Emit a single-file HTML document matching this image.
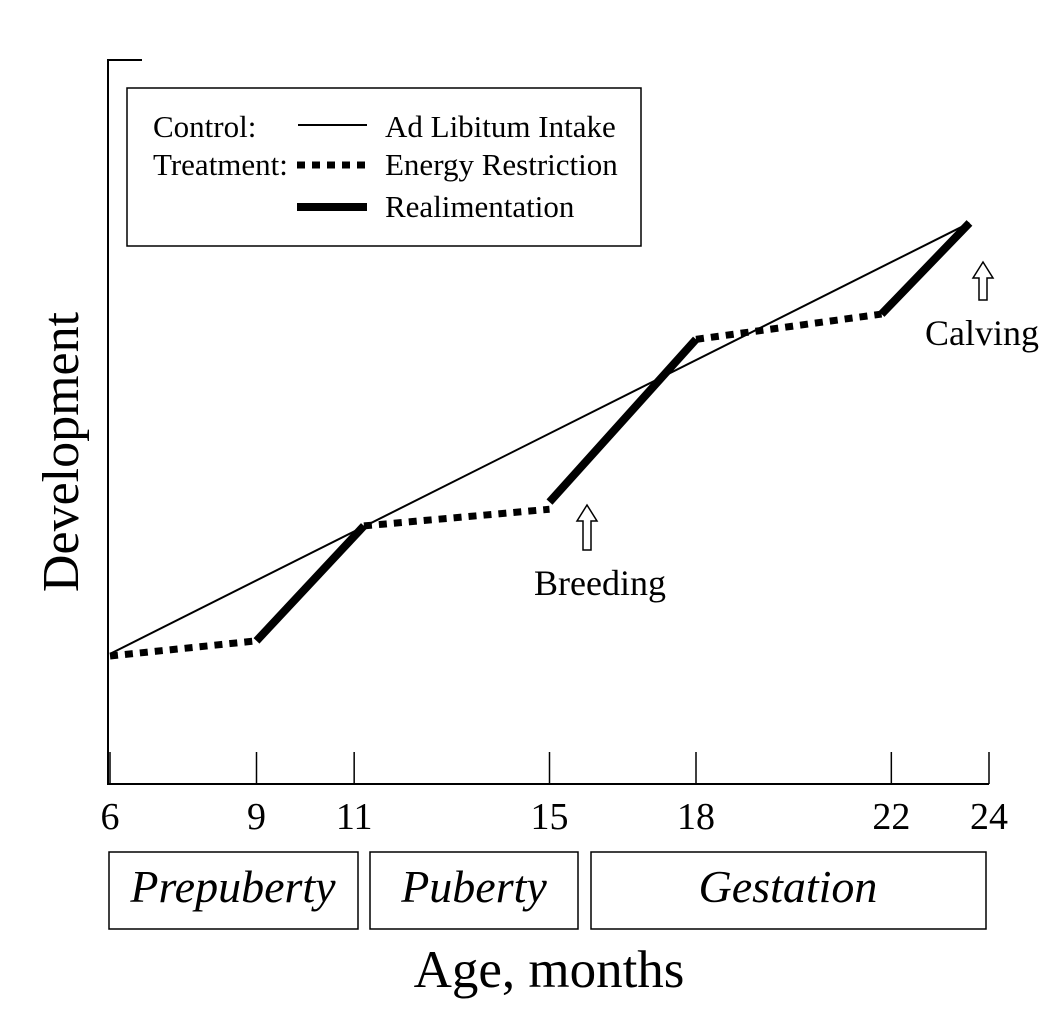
<!DOCTYPE html>
<html><head><meta charset="utf-8"><style>
body{margin:0;background:#fff;}
svg text{font-family:"Liberation Serif",serif;fill:#000;}
</style></head><body>
<svg id="chart" width="1062" height="1013" viewBox="0 0 1062 1013" xmlns="http://www.w3.org/2000/svg">
<g id="axes"></g>
<g id="series"></g>
<g>
  <rect x="127" y="88" width="514" height="158" fill="#fff" stroke="#000" stroke-width="1.5"/>
  <text x="153" y="137" font-size="31">Control:</text>
  <line x1="298" y1="125" x2="367" y2="125" stroke="#000" stroke-width="2"/>
  <text x="385" y="137" font-size="31">Ad Libitum Intake</text>
  <text x="153" y="175" font-size="31">Treatment:</text>
  <line x1="297" y1="165" x2="367" y2="165" stroke="#000" stroke-width="7" stroke-dasharray="8,7"/>
  <text x="385" y="175" font-size="31">Energy Restriction</text>
  <line x1="297" y1="207" x2="367" y2="207" stroke="#000" stroke-width="8"/>
  <text x="385" y="217" font-size="31">Realimentation</text>
</g>
<g>
  <path d="M587,505 L597,521 L591,521 L591,550 L583,550 L583,521 L577,521 Z" fill="#fff" stroke="#000" stroke-width="1.5"/>
  <text x="600" y="595" font-size="36" text-anchor="middle">Breeding</text>
</g>
<g>
  <path d="M983,262 L993,278 L987,278 L987,300 L979,300 L979,278 L973,278 Z" fill="#fff" stroke="#000" stroke-width="1.5"/>
  <text x="982" y="345" font-size="36" text-anchor="middle">Calving</text>
</g>
<text transform="translate(78,452) rotate(-90)" font-size="52" text-anchor="middle">Development</text>
<g>
  <rect x="109" y="852" width="249" height="77" fill="none" stroke="#000" stroke-width="1.5"/>
  <text x="233" y="902" font-size="46" font-style="italic" text-anchor="middle">Prepuberty</text>
  <rect x="370" y="852" width="208" height="77" fill="none" stroke="#000" stroke-width="1.5"/>
  <text x="474" y="902" font-size="46" font-style="italic" text-anchor="middle">Puberty</text>
  <rect x="591" y="852" width="395" height="77" fill="none" stroke="#000" stroke-width="1.5"/>
  <text x="788" y="902" font-size="46" font-style="italic" text-anchor="middle">Gestation</text>
</g>
<text x="549" y="987" font-size="53" text-anchor="middle">Age, months</text>
</svg>
<script>
const tickMonths=[6,9,11,15,18,22,24];
const tickLabels=["6","9","11","15","18","22","24"];
const controlMonths=[6,23.6];
const controlValues=[18,77.6];
const restrictionSegments=[[6,17.7,9,19.8],[11.2,35.7,15,38],[18,61.5,21.8,65]];
const realimentSegments=[[9,19.8,11.2,35.7],[15,39,18,61.5],[21.8,65,23.6,77.6]];
const NS="http://www.w3.org/2000/svg";
function xs(m){return 110+(m-6)*(989-110)/18;}
function ys(v){return 784-v*7.23;}
function mk(parent,tag,attrs){const e=document.createElementNS(NS,tag);for(const k in attrs)e.setAttribute(k,attrs[k]);parent.appendChild(e);return e;}
const axes=document.getElementById('axes');
const series=document.getElementById('series');
let e=mk(axes,'path',{d:'M142,60 L108,60 L108,784 L'+xs(24)+',784',fill:'none',stroke:'#000','stroke-width':2});


tickMonths.forEach((m,i)=>{
  const t=mk(axes,'line',{x1:xs(m),x2:xs(m),y1:752,y2:784,stroke:'#000','stroke-width':1.5});
  
  
  const l=mk(axes,'text',{x:xs(m),y:829,'font-size':38,'text-anchor':'middle'});
  l.textContent=tickLabels[i];
  
  
});
e=mk(series,'line',{x1:xs(controlMonths[0]),y1:ys(controlValues[0]),x2:xs(controlMonths[1]),y2:ys(controlValues[1]),stroke:'#000','stroke-width':2});


restrictionSegments.forEach((s,i)=>{
  const l=mk(series,'line',{x1:xs(s[0]),y1:ys(s[1]),x2:xs(s[2]),y2:ys(s[3]),stroke:'#000','stroke-width':7,'stroke-dasharray':'8,7'});
  
  
});
realimentSegments.forEach((s,i)=>{
  const l=mk(series,'line',{x1:xs(s[0]),y1:ys(s[1]),x2:xs(s[2]),y2:ys(s[3]),stroke:'#000','stroke-width':8});
  
  
});
</script>
</body></html>
